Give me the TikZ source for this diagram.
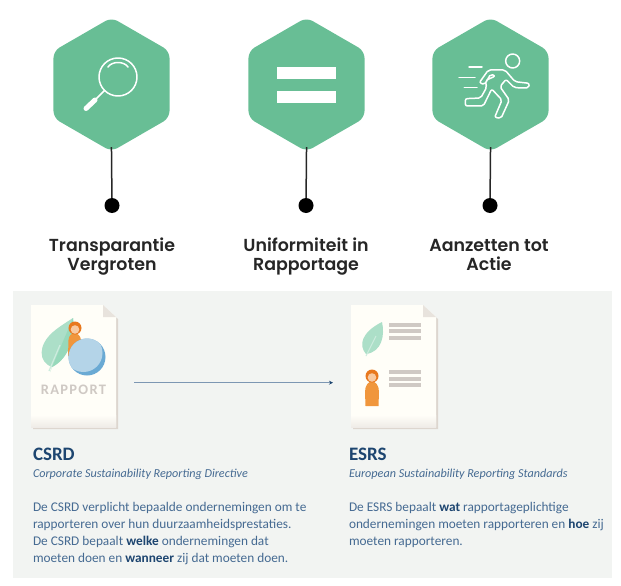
\documentclass[tikz,border=0pt]{standalone}
\usepackage{fontspec}
\setmainfont{Carlito}
\newfontfamily\headfont{Poppins SemiBold}
\usetikzlibrary{shapes.geometric}
\usetikzlibrary{arrows.meta}
\definecolor{hexgreen}{HTML}{68BE95}
\definecolor{panelgrey}{HTML}{F2F4F2}
\definecolor{pagecream}{HTML}{FFFEF8}
\definecolor{pageshade}{HTML}{DDD6CF}
\definecolor{foldgrey}{HTML}{E8E3DD}
\definecolor{stripegrey}{HTML}{CFC9C4}
\definecolor{inkblue}{HTML}{1D4570}
\definecolor{bodyblue}{HTML}{456A92}
\definecolor{leafpale}{HTML}{ACDFC8}
\definecolor{leafdark}{HTML}{97D9BB}
\definecolor{personorange}{HTML}{F0963C}
\definecolor{hairorange}{HTML}{E8781E}
\definecolor{skintone}{HTML}{F8C9A0}
\definecolor{ballpale}{HTML}{B4D4E8}
\definecolor{balldark}{HTML}{6AAAD4}
\tikzstyle{hexagon}=[regular polygon, regular polygon sides=6, shape border rotate=30, fill=hexgreen, inner sep=0, outer sep=0, minimum size=134pt, rounded corners=7pt]
\tikzstyle{pin}=[circle, fill=black, inner sep=0, outer sep=0, minimum size=15pt]
% The rounded tip lies above the south anchor, hence the negative value.
\tikzstyle{stem}=[draw=black!85, line width=1.5pt, shorten <=-4.5pt]
\tikzstyle{headline}=[inner sep=0, outer sep=0, anchor=north, align=center, text=black!85, font=\headfont\fontsize{17.4}{19}\selectfont]
\tikzstyle{icon}=[draw=white, line width=1.5pt, line cap=round, line join=round]
\tikzstyle{stripe}=[fill=stripegrey]
\tikzstyle{title}=[inner sep=0, outer sep=0, anchor=base west, text=inkblue, font=\bfseries\fontsize{19}{20}\selectfont]
\tikzstyle{subtitle}=[inner sep=0, outer sep=0, anchor=base west, text=bodyblue, font=\itshape\fontsize{12.15}{16}\selectfont]
\tikzstyle{bodytext}=[inner sep=0, outer sep=0, anchor=north west, align=left, text=bodyblue, font=\fontsize{13.3}{17.2}\selectfont]
\newcommand{\kw}[1]{\textbf{\textcolor{inkblue}{#1}}}
\newcommand{\reportpage}[1]{
    \begin{scope}[shift={(#1, 305)}]
        \fill[pageshade] (2, 2) -- (72, 2) -- (87, 14) -- (87, 124) -- (2, 124) -- cycle;
        \fill[pagecream] (0, 0) -- (72, 0) -- (85, 12) -- (85, 122) -- (0, 122) -- cycle;
        \shade[top color=pagecream, bottom color=foldgrey!70] (0, 110) rectangle (85, 122);
        \fill[foldgrey] (72, 0) -- (85, 12) -- (72, 12) -- cycle;
    \end{scope}
}
\begin{document}
\begin{tikzpicture}[x=1pt, y=-1pt]
    \useasboundingbox (0, 0) rectangle (621, 586);
    \fill[panelgrey] (13, 291) rectangle (612, 578);

    % Top row.
    \node[hexagon] (hex1) at (111.5, 84.5) {};
    \node[hexagon] (hex2) at (306.5, 84.5) {};
    \node[hexagon] (hex3) at (490.5, 84.5) {};
    \node[pin] (pin1) at (112, 205.5) {};
    \node[pin] (pin2) at (306, 205.5) {};
    \node[pin] (pin3) at (490, 205.5) {};
    \draw[stem] (hex1.south) -- (pin1);
    \draw[stem] (hex2.south) -- (pin2);
    \draw[stem] (hex3.south) -- (pin3);
    \node[headline] (head1) at (112, 237.5) {Transparantie\\Vergroten};
    \node[headline] (head2) at (306, 237.5) {Uniformiteit in\\Rapportage};
    \node[headline] (head3) at (489, 239.5) {Aanzetten tot\\Actie};

    % Magnifier.
    \draw[icon] (118, 77) circle (19pt);
    \draw[icon] (108, 67) .. controls (112, 61) and (124, 61) .. (128, 67);
    \draw[icon] (104.5, 90.5) -- (95, 100);
    \draw[icon, line width=5pt] (95, 100) -- (86, 108.5);

    % Equals sign.
    \fill[white] (277, 67) rectangle (336, 79);
    \fill[white] (277, 91) rectangle (336, 103);

    % Runner.
    \begin{scope}[shift={(320, 10)}, scale=1/3]
        \draw[icon] (578, 153) circle (21pt);
        \draw[icon] (447, 171) -- (486, 171);
        \draw[icon] (417, 202) -- (465, 202);
        \draw[icon] (433, 233) -- (471, 233);
        \draw[icon, rounded corners=2pt] (478, 218) -- (505, 180) -- (555, 180) -- (585, 215) -- (628, 220)
            -- (626, 234) -- (583, 233) -- (558, 208) -- (540, 230) -- (568, 270) -- (543, 325)
            -- (524, 322) -- (546, 270) -- (515, 237) -- (490, 288) -- (436, 288) -- (436, 266)
            -- (482, 264) -- (500, 232) -- (496, 212) -- (526, 198) -- (512, 192) -- (494, 224) -- cycle;
    \end{scope}

    % Report pages.
    \reportpage{31}
    \reportpage{351}
    \node[inner sep=0, outer sep=0, text=stripegrey, font=\bfseries\fontsize{14.5}{16}\selectfont\addfontfeatures{LetterSpace=9}] (rapport) at (73.5, 389.5) {RAPPORT};

    % Leaf, person and ball on the first page.
    \fill[leafpale] (52, 367) .. controls (38, 362) and (38, 345) .. (53, 332) .. controls (60, 326) and (67, 322) .. (73, 318)
        .. controls (75, 335) and (70, 358) .. (52, 367) -- cycle;
    \fill[leafdark] (50, 372) -- (73, 318) .. controls (75, 335) and (70, 358) .. (52, 367) -- cycle;
    \draw[leafpale!60!white, line width=1.2pt] (49, 371) -- (60, 345);
    \fill[personorange] (68, 356) -- (68.5, 340) .. controls (69, 331) and (80, 331) .. (81, 340) -- (81, 356) -- cycle;
    \fill[hairorange] (75, 328) circle (6.5pt);
    \fill[skintone] (75, 329.5) circle (4.3pt);
    \fill[balldark] (87, 357) circle (18.5pt);
    \begin{scope}
        \clip (87, 357) circle (18.5pt);
        \fill[ballpale] (83.5, 353) circle (19pt);
    \end{scope}

    % Leaf, person and stripes on the second page.
    \fill[leafpale] (366, 354) .. controls (358, 345) and (362, 332) .. (382, 322) .. controls (385, 335) and (382, 352) .. (366, 354) -- cycle;
    \draw[leafpale!60!white, line width=1pt] (366, 356) -- (376, 336);
    \fill[personorange] (365.5, 406) -- (365, 392) .. controls (365, 378) and (379, 378) .. (379, 392) -- (378.5, 406) -- cycle;
    \fill[hairorange] (372, 376) circle (6.5pt);
    \fill[skintone] (372, 377.5) circle (4.3pt);
    \fill[stripe] (389, 322.5) rectangle (421, 326.5);
    \fill[stripe] (389, 329) rectangle (421, 333);
    \fill[stripe] (389, 335.5) rectangle (421, 339.5);
    \fill[stripe] (389, 370) rectangle (421, 374);
    \fill[stripe] (389, 376.5) rectangle (421, 380.5);
    \fill[stripe] (389, 383) rectangle (421, 387);

    % Arrow between the pages.
    \coordinate (csrdout) at (134, 382.7);
    \coordinate (esrsin) at (333, 382.7);
    \draw[draw=bodyblue!70, line width=0.9pt, -{Stealth[length=4pt, width=4pt, inkblue]}] (csrdout) -- (esrsin);

    % Texts.
    \node[title] (csrd) at (33, 460) {CSRD};
    \node[subtitle] (csrdfull) at (33, 477) {Corporate Sustainability Reporting Directive};
    \node[bodytext] (csrdtext) at (33, 502) {De CSRD verplicht bepaalde ondernemingen om te\\rapporteren over hun duurzaamheidsprestaties.\\De CSRD bepaalt \kw{welke} ondernemingen dat\\moeten doen en \kw{wanneer} zij dat moeten doen.};
    \node[title] (esrs) at (349, 460) {ESRS};
    \node[subtitle] (esrsfull) at (349, 477) {European Sustainability Reporting Standards};
    \node[bodytext] (esrstext) at (349, 502) {De ESRS bepaalt \kw{wat} rapportageplichtige\\ondernemingen moeten rapporteren en \kw{hoe} zij\\moeten rapporteren.};
\end{tikzpicture}
\end{document}
